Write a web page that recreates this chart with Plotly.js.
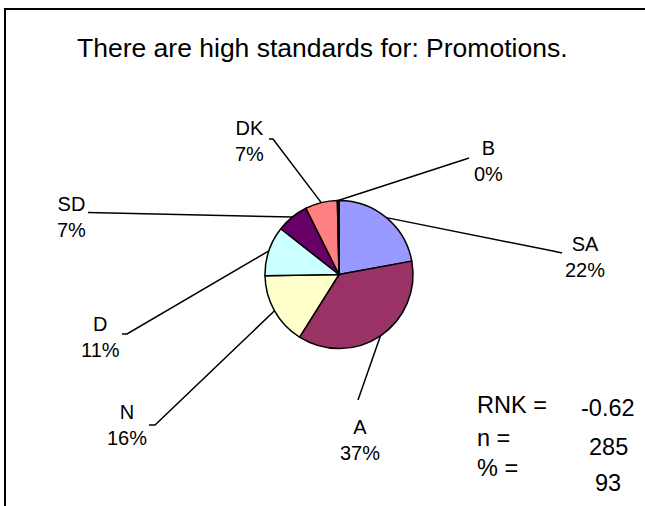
<!DOCTYPE html>
<html><head><meta charset="utf-8">
<script src="https://cdn.plot.ly/plotly-3.0.1.min.js"></script>
<style>html,body{margin:0;padding:0;background:#fff}#chart{width:645px;height:506px}</style>
</head><body><div id="chart"></div>
<script>
// ---- data ----
const categories = ['SA','A','N','D','SD','DK','B'];
const counts = [63,105,45,31,20,20,1];
const colors = ['#9999FF','#993366','#FFFFCC','#CCFFFF','#660066','#FF8080','#0066CC'];
const titleText = 'There are high standards for: Promotions.';
const statNames = ['RNK =','n =','% ='];
const statValues = ['-0.62','285','93'];

// ---- layout constants (px) ----
const W = 645, H = 506;
const cx = 339, cy = 274.5, R = 74;
const FONT = 'Liberation Sans, Arial, sans-serif';
const labelPos = {SA:[585,257], A:[360,440], N:[127,425], D:[100,337], SD:[71,217], DK:[249,141], B:[488,161]};
const leaderPts = {
  SA:[[553,251],[562,253]],
  A:[[358,400]],
  N:[[155,425],[149,425]],
  D:[[127,334],[122,334]],
  SD:[[88,212.5]],
  DK:[[273,139],[269,139]],
  B:[[463,160],[469,158]]
};
const statNameX = 475, statValueX = 608;
const statNameY = [405, 438, 468];
const statValueY = [408, 447, 483];

const px = x => x / W;
const py = y => 1 - y / H;

const total = counts.reduce((a,b)=>a+b,0);
const shapes = [];
const annotations = [];
let cum = 0;
categories.forEach((c,i)=>{
  const mid = (cum + counts[i]/2) / total * 2 * Math.PI;
  cum += counts[i];
  const sx = cx + R*Math.sin(mid), sy = cy - R*Math.cos(mid);
  let path = 'M ' + px(sx) + ' ' + py(sy);
  leaderPts[c].forEach(p => { path += ' L ' + px(p[0]) + ' ' + py(p[1]); });
  shapes.push({type:'path', xref:'paper', yref:'paper', path:path, line:{color:'#000', width:1.5}});
  const pct = Math.round(counts[i]/total*100) + '%';
  annotations.push({xref:'paper', yref:'paper', x:px(labelPos[c][0]), y:py(labelPos[c][1]),
    xanchor:'center', yanchor:'middle', showarrow:false, text:c + '<br>' + pct,
    font:{family:FONT, size:20, color:'#000'}});
});

annotations.push({xref:'paper', yref:'paper', x:0.5, y:py(48), xanchor:'center', yanchor:'middle',
  showarrow:false, text:titleText, font:{family:FONT, size:26.5, color:'#000'}});
statNames.forEach((s,i)=>{
  annotations.push({xref:'paper', yref:'paper', x:px(statNameX), y:py(statNameY[i]), xanchor:'left', yanchor:'middle',
    showarrow:false, text:s, font:{family:FONT, size:23.5, color:'#000'}});
  annotations.push({xref:'paper', yref:'paper', x:px(statValueX), y:py(statValueY[i]), xanchor:'center', yanchor:'middle',
    showarrow:false, text:statValues[i], font:{family:FONT, size:23.5, color:'#000'}});
});

// frame
shapes.push({type:'rect', xref:'paper', yref:'paper', x0:px(5), x1:px(652), y0:py(9), y1:py(515),
  line:{color:'#000', width:2}, fillcolor:'rgba(0,0,0,0)'});

const trace = {
  type:'pie', values:counts, labels:categories, sort:false, direction:'clockwise', rotation:0,
  textinfo:'none', hoverinfo:'label+percent', showlegend:false,
  marker:{colors:colors, line:{color:'#000', width:1.5}},
  domain:{x:[px(cx-R), px(cx+R)], y:[py(cy+R), py(cy-R)]}
};

Plotly.newPlot('chart', [trace], {
  width:W, height:H, margin:{l:0,r:0,t:0,b:0}, paper_bgcolor:'#fff', plot_bgcolor:'#fff',
  showlegend:false, shapes:shapes, annotations:annotations, font:{family:FONT}
}, {staticPlot:true, displayModeBar:false});
</script></body></html>
